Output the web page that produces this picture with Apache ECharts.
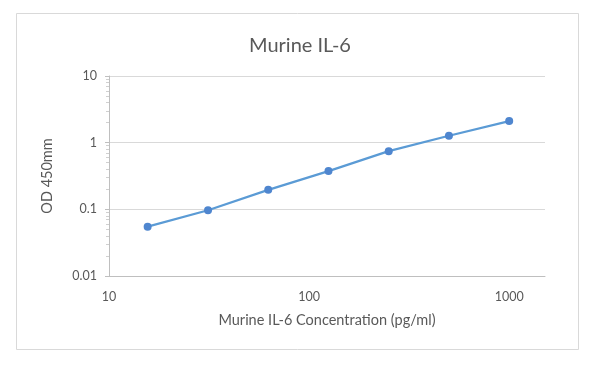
<!DOCTYPE html>
<html>
<head>
<meta charset="utf-8">
<script src="https://cdn.jsdelivr.net/npm/echarts@6/dist/echarts.min.js"></script>
<style>html,body{margin:0;padding:0;background:#fff}#c{width:600px;height:365px}</style>
</head>
<body>
<div id="c"></div>
<script>
var concentrations = [15.6, 31.25, 62.5, 125, 250, 500, 1000];
var odValues = [0.055, 0.097, 0.196, 0.375, 0.745, 1.27, 2.11];
var chartTitle = 'Murine IL-6';
var xAxisTitle = 'Murine IL-6 Concentration (pg/ml)';
var yAxisTitle = 'OD 450mm';

var points = concentrations.map(function (c, i) { return [c, odValues[i]]; });
var font = 'Lato, "Open Sans", sans-serif';
function fmt(v) { return String(+Number(v).toPrecision(6)); }
var chart = echarts.init(document.getElementById('c'), null, {renderer: 'canvas'});
chart.setOption({
  animation: false,
  backgroundColor: '#fff',
  title: {
    text: chartTitle, left: 'center', top: 31,
    textStyle: {fontFamily: font, fontSize: 20, fontWeight: 'normal', color: '#595959'}
  },
  graphic: [{
    type: 'rect', shape: {x: 16.5, y: 13.5, width: 562, height: 336},
    style: {fill: 'none', stroke: '#d9d9d9', lineWidth: 1}, silent: true
  }],
  grid: {left: 109, right: 55, top: 76, bottom: 89},
  xAxis: {
    type: 'log', logBase: 10, min: 10, max: 1510,
    name: xAxisTitle, nameLocation: 'middle', nameGap: 37,
    nameTextStyle: {fontFamily: font, fontSize: 14.5, color: '#595959'},
    axisLine: {show: true, lineStyle: {color: '#bfbfbf', width: 1}},
    axisTick: {show: false},
    splitLine: {show: false},
    axisLabel: {fontFamily: font, fontSize: 12.5, color: '#595959', margin: 14, showMaxLabel: false, formatter: fmt}
  },
  yAxis: {
    type: 'log', logBase: 10, min: 0.01, max: 10,
    name: yAxisTitle, nameLocation: 'middle', nameGap: 54, nameRotate: 90,
    nameTextStyle: {fontFamily: font, fontSize: 14.5, color: '#595959'},
    axisLine: {show: true, lineStyle: {color: '#bfbfbf', width: 1}},
    axisTick: {show: true, length: 4, lineStyle: {color: '#bfbfbf'}},
    minorTick: {show: true, splitNumber: 9, length: 3, lineStyle: {color: '#d0d0d0'}},
    splitLine: {show: true, lineStyle: {color: '#d9d9d9', width: 1}},
    axisLabel: {fontFamily: font, fontSize: 12.5, color: '#595959', margin: 12, formatter: fmt}
  },
  series: [{
    type: 'line', data: points,
    symbol: 'circle', symbolSize: 8,
    lineStyle: {color: '#5B9BD5', width: 2.25},
    itemStyle: {color: '#4F86CF'}
  }]
});
</script>
</body>
</html>
